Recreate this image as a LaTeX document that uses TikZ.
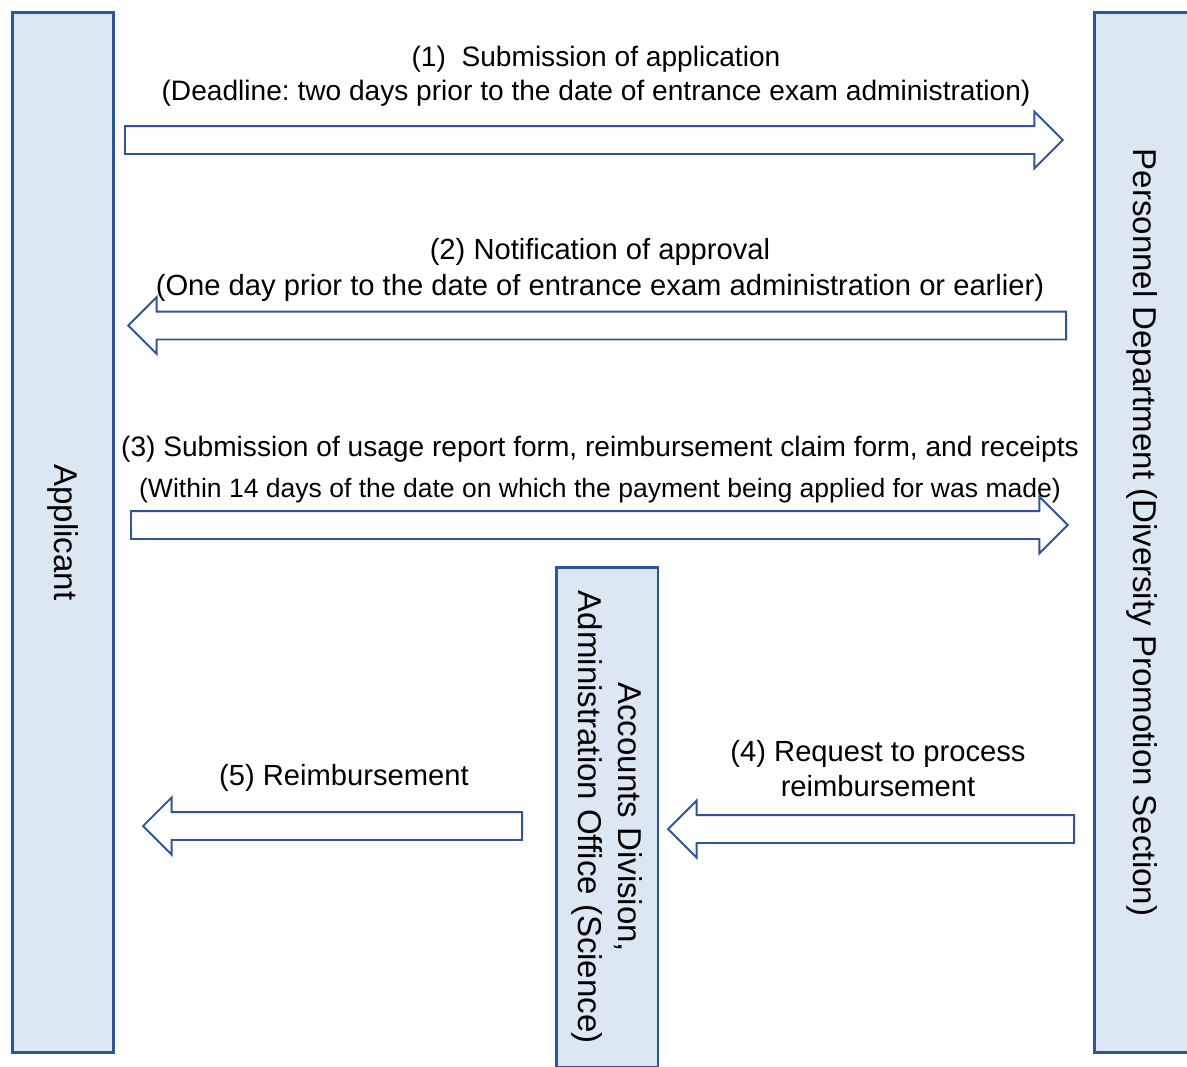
\documentclass[tikz,border=0pt]{standalone}
\usepackage{fontspec}
\setmainfont{Liberation Sans}
\usepackage{xcolor}
\usetikzlibrary{shapes.arrows}

\definecolor{boxblue}{HTML}{DCE7F4}
\definecolor{lineblue}{HTML}{2F5597}

\frenchspacing

\tikzset{
    party/.style={draw=lineblue, line width=1.7pt, fill=boxblue, rotate=-90,
        inner sep=0pt, font=\fontsize{18.8}{22.7}\selectfont, align=center},
    blockarrow/.style={single arrow, draw=lineblue, line width=1.1pt, fill=white,
        inner sep=0pt, text height=0.26cm, text depth=0.26cm,
        minimum width=1.1cm, single arrow head extend=0.29cm,
        single arrow head indent=0pt, anchor=tail},
    leftarrow/.style={blockarrow, shape border rotate=180},
    msg/.style={font=\fontsize{16}{19.3}\selectfont, align=center, inner sep=0pt},
    bigmsg/.style={msg, font=\fontsize{16.6}{20}\selectfont}
}

\begin{document}
\begin{tikzpicture}[x=0.02cm, y=-0.02cm]
        \useasboundingbox (0,0) rectangle (1187,1066);
        \clip (0,0) rectangle (1187,1066);

        % The three boxes
        \node[party, minimum width=20.82cm, minimum height=2.04cm] (applicant) at (63,532.5) {Applicant};
        \node[party, minimum width=20.82cm, minimum height=1.92cm] (personnel) at (1142,532.5)
            {Personnel Department (Diversity Promotion Section)};
        \node[party, minimum width=10.01cm, minimum height=2.04cm] (accounts) at (607,817.25)
            {Accounts Division,\\Administration Office (Science)};

        % The arrows (placed by their tails)
        \node[blockarrow, minimum height=18.76cm] (a1) at (124,140) {};
        \node[leftarrow, minimum height=18.76cm] (a2) at (1067,325.5) {};
        \node[blockarrow, minimum height=18.74cm] (a3) at (130,525) {};
        \node[leftarrow, minimum height=8.12cm] (a4) at (1075,829) {};
        \node[leftarrow, minimum height=7.58cm] (a5) at (523,826) {};

        % The words over the arrows
        \node[msg] (l1) at (596,76.5) {(1)\ \ Submission of application\\
            (Deadline: two days prior to the date of entrance exam administration)};
        \node[bigmsg] (l2) at (600,270) {(2) Notification of approval\\
            (One day prior to the date of entrance exam administration or earlier)};
        \node[msg] (l3) at (600,449) {(3) Submission of usage report form, reimbursement claim form, and receipts};
        \node[msg, font=\fontsize{15.1}{18}\selectfont] (l3b) at (600,491)
            {(Within 14 days of the date on which the payment being applied for was made)};
        \node[bigmsg] (l4) at (878,768.5) {(4) Request to process\\reimbursement};
        \node[bigmsg] (l5) at (344,778) {(5) Reimbursement};

    \end{tikzpicture}
\end{document}
